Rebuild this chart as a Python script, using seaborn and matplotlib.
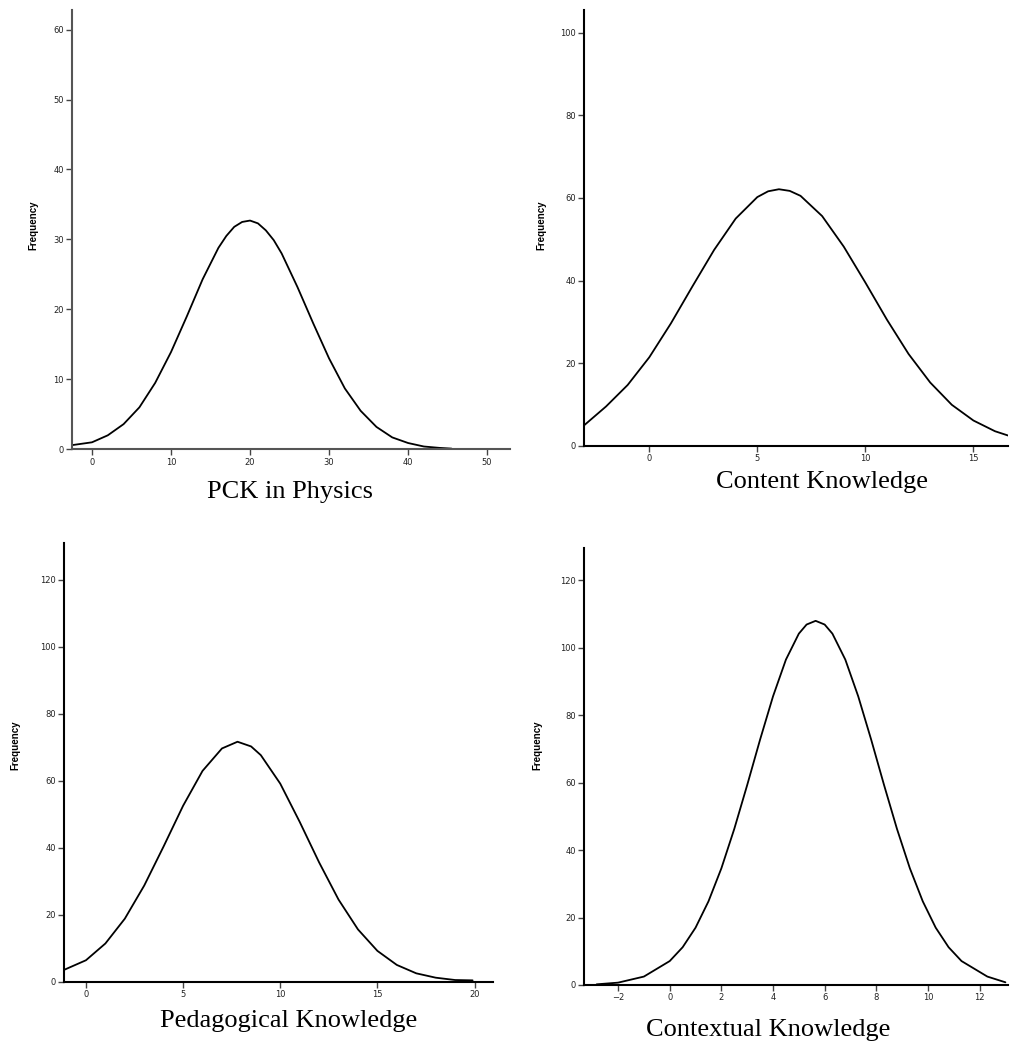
import numpy as np
import pandas as pd
import matplotlib
matplotlib.use("Agg")
import matplotlib.pyplot as plt
import seaborn as sns

# ---- data (normal-curve overlays, Frequency vs score) ----
pck_x = [-2.5, 0, 2, 4, 6, 8, 10, 12, 14, 16, 17, 18, 19, 20, 21, 22, 23, 24,
         26, 28, 30, 32, 34, 36, 38, 40, 42, 44, 45.5]
pck_y = [0.6, 1.0, 2.0, 3.6, 6.0, 9.5, 13.9, 19.0, 24.3, 28.8, 30.5, 31.8,
         32.5, 32.7, 32.3, 31.3, 29.9, 28.0, 23.2, 18.0, 13.0, 8.7, 5.5, 3.2,
         1.7, 0.9, 0.4, 0.2, 0.1]

ck_x = [-3.0, -2, -1, 0, 1, 2, 3, 4, 5, 5.5, 6, 6.5, 7, 8, 9, 10, 11, 12, 13,
        14, 15, 16, 16.7]
ck_y = [5.0, 9.5, 14.7, 21.4, 29.6, 38.6, 47.4, 55.0, 60.2, 61.6, 62.1, 61.7,
        60.5, 55.6, 48.2, 39.5, 30.5, 22.2, 15.3, 9.9, 6.1, 3.5, 2.3]

pk_x = [-1.1, 0, 1, 2, 3, 4, 5, 6, 7, 7.8, 8.5, 9, 10, 11, 12, 13, 14, 15, 16,
        17, 18, 19, 19.9]
pk_y = [3.6, 6.4, 11.4, 18.8, 28.7, 40.4, 52.5, 62.9, 69.6, 71.6, 70.2, 67.6,
        59.1, 47.7, 35.6, 24.5, 15.6, 9.2, 5.0, 2.5, 1.2, 0.5, 0.4]

cx_x = [-2.83, -2, -1, 0, 0.5, 1, 1.5, 2, 2.5, 3, 3.5, 4, 4.5, 5, 5.3, 5.65,
        6.0, 6.3, 6.8, 7.3, 7.8, 8.3, 8.8, 9.3, 9.8, 10.3, 10.8, 11.3, 12.3, 13.0]
cx_y = [0.2, 0.7, 2.5, 7.1, 11.2, 17.0, 24.8, 34.6, 46.3, 59.3, 72.8, 85.6,
        96.5, 104.2, 106.9, 108.0, 106.9, 104.2, 96.5, 85.6, 72.8, 59.3, 46.3,
        34.6, 24.8, 17.0, 11.2, 7.1, 2.5, 0.8]

titles = ["PCK in Physics", "Content Knowledge", "Pedagogical Knowledge", "Contextual Knowledge"]
xticks_list = [[0, 10, 20, 30, 40, 50], [0, 5, 10, 15], [0, 5, 10, 15, 20],
               [-2, 0, 2, 4, 6, 8, 10, 12]]
yticks_list = [[0, 10, 20, 30, 40, 50, 60], [0, 20, 40, 60, 80, 100],
               [0, 20, 40, 60, 80, 100, 120], [0, 20, 40, 60, 80, 100, 120]]

# ---- layout ----
sns.set_style("ticks")
W, H = 1010, 1041
fig = plt.figure(figsize=(W / 100, H / 100), dpi=100)

# pixel boxes: left, right, top, bottom
boxes = [(72, 510, 10, 449.3), (584, 1008, 10, 445.7),
         (64, 493, 543, 981.7), (584, 1008, 548, 985)]
xlims = [(-2.53, 52.9), (-3.02, 16.6), (-1.13, 20.95), (-3.32, 13.1)]
ylims = [(0, 62.8), (0, 105.5), (0, 130.9), (0, 129.6)]
title_pos = [(290, 492), (822, 482), (289, 1021), (768, 1030)]
freq_pos = [(33, 225), (541, 225), (15, 745), (537, 745)]
spine_col = ["#555555", "black", "black", "black"]

data = [(pck_x, pck_y), (ck_x, ck_y), (pk_x, pk_y), (cx_x, cx_y)]

for i, (xs, ys) in enumerate(data):
    l, r, t, b = boxes[i]
    ax = fig.add_axes([l / W, 1 - b / H, (r - l) / W, (b - t) / H])
    df = pd.DataFrame({"score": xs, "freq": ys})
    sns.lineplot(data=df, x="score", y="freq", ax=ax, color="black",
                 linewidth=1.3, solid_joinstyle="round", solid_capstyle="round")
    ax.set_xlim(*xlims[i])
    ax.set_ylim(*ylims[i])
    ax.set_xticks(xticks_list[i])
    ax.set_yticks(yticks_list[i])
    ax.set_xlabel("")
    ax.set_ylabel("")
    ax.tick_params(axis="both", labelsize=6, length=4, width=1,
                   color="#444444", labelcolor="#222222", pad=2)
    sns.despine(ax=ax)
    for s in ("left", "bottom"):
        ax.spines[s].set_color(spine_col[i])
        ax.spines[s].set_linewidth(1.5)
    fig.text(title_pos[i][0] / W, 1 - title_pos[i][1] / H, titles[i],
             ha="center", va="center", fontsize=19, family="Liberation Serif",
             color="black")
    fig.text(freq_pos[i][0] / W, 1 - freq_pos[i][1] / H, "Frequency",
             ha="center", va="center", rotation=90, fontsize=7,
             fontweight="bold", family="Liberation Sans", color="black")

fig.savefig("out.png", dpi=100, facecolor="white")
